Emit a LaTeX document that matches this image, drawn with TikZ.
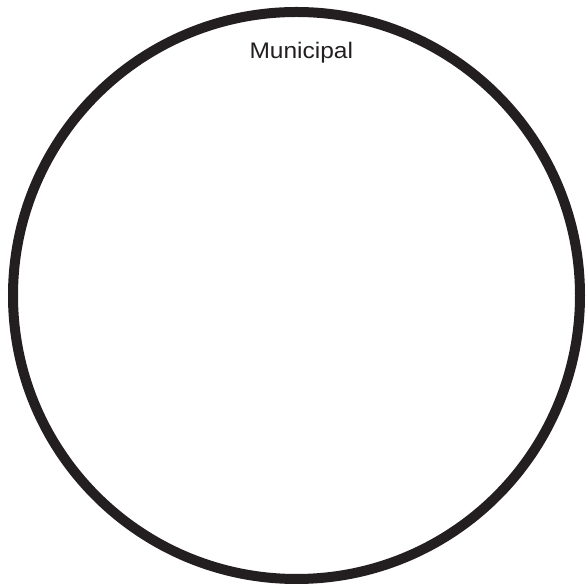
\documentclass[tikz,border=0pt]{standalone}
\usepackage{fontspec}
\setmainfont{Liberation Sans}
\definecolor{ringcol}{HTML}{231F20}
\begin{document}
\begin{tikzpicture}[x=1pt,y=1pt,
  ring/.style={draw=ringcol,line width=10pt},
  lbl/.style={font=\fontsize{22.5}{26}\selectfont,text=ringcol,inner sep=0pt,anchor=base,xscale=1.09}]
\useasboundingbox (0,0) rectangle (587,586);
\node[ring,circle,minimum size=567pt,inner sep=0pt] (ring) at (296.5,290.5) {};
\node[lbl] (title) at (301.3,527.7) {Municipal};
\end{tikzpicture}
\end{document}
